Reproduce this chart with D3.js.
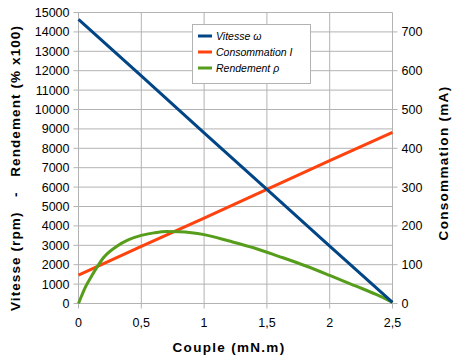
<!DOCTYPE html>
<html>
<head>
<meta charset="utf-8">
<script src="https://cdn.jsdelivr.net/npm/d3@7"></script>
<style>
  body { margin: 0; background: #fff; }
  text { font-family: "Liberation Sans", Arial, sans-serif; }
</style>
</head>
<body>
<script>
// chart size
const width = 462;
const height = 364;

// couple (mN.m) values
const vitesseX = [0, 0.5, 1, 1.5, 2, 2.5];
const vitesse = [14650, 11730, 8800, 5880, 2960, 60];

const consoX = [0, 0.5, 1, 1.5, 2, 2.5];
const conso = [73, 147, 220, 294, 368, 441];

const rendX = [0, 0.025, 0.05, 0.1, 0.15, 0.2, 0.3, 0.4, 0.5, 0.6, 0.7, 0.8, 0.9, 1, 1.2, 1.4, 1.6, 1.8, 2, 2.2, 2.4, 2.5];
const rend = [0, 400, 780, 1370, 1900, 2370, 2930, 3290, 3510, 3640, 3710, 3700, 3650, 3550, 3220, 2860, 2420, 1960, 1450, 920, 380, 60];

const xTicks = [0, 0.5, 1, 1.5, 2, 2.5];
const leftTicks = d3.range(0, 15001, 1000);
const rightTicks = d3.range(0, 701, 100);

const seriesNames = ['Vitesse \u03C9', 'Consommation I', 'Rendement \u03C1'];
const colors = ['#004586', '#ff420e', '#579d1c'];

const svg = d3.select('body')
  .append('svg')
  .attr('width', width)
  .attr('height', height);

// scales
const x = d3.scaleLinear().domain([0, 2.5]).range([78.5, 392.5]);
const yL = d3.scaleLinear().domain([0, 15000]).range([303.5, 12.5]);
const yR = d3.scaleLinear().domain([0, 750]).range([303.5, 12.5]);

const fmt = d => String(d).replace('.', ',');

// grid
svg.append('g')
  .selectAll('line')
  .data(leftTicks)
  .enter()
  .append('line')
  .attr('x1', x(0) - 5)
  .attr('x2', x(2.5))
  .attr('y1', d => yL(d))
  .attr('y2', d => yL(d))
  .attr('stroke', '#b3b3b3');

svg.append('g')
  .selectAll('line')
  .data(xTicks)
  .enter()
  .append('line')
  .attr('x1', d => x(d))
  .attr('x2', d => x(d))
  .attr('y1', yL(15000))
  .attr('y2', yL(0) + 5)
  .attr('stroke', '#b3b3b3');

// right axis ticks
svg.append('g')
  .selectAll('line')
  .data(rightTicks)
  .enter()
  .append('line')
  .attr('x1', x(2.5))
  .attr('x2', x(2.5) + 5)
  .attr('y1', d => yR(d))
  .attr('y2', d => yR(d))
  .attr('stroke', '#b3b3b3');

// tick labels
svg.append('g')
  .selectAll('text')
  .data(leftTicks)
  .enter()
  .append('text')
  .attr('x', x(0) - 9)
  .attr('y', d => yL(d))
  .attr('dy', '0.36em')
  .attr('text-anchor', 'end')
  .attr('font-size', 12.5)
  .attr('fill', '#000')
  .text(d => d);

svg.append('g')
  .selectAll('text')
  .data(rightTicks)
  .enter()
  .append('text')
  .attr('x', x(2.5) + 9)
  .attr('y', d => yR(d))
  .attr('dy', '0.36em')
  .attr('font-size', 12.5)
  .attr('fill', '#000')
  .text(d => d);

svg.append('g')
  .selectAll('text')
  .data(xTicks)
  .enter()
  .append('text')
  .attr('x', d => x(d))
  .attr('y', 322)
  .attr('dy', '0.36em')
  .attr('text-anchor', 'middle')
  .attr('font-size', 12.5)
  .attr('fill', '#000')
  .text(fmt);

// series lines
const line = (xs, ys, yScale) => d3.line()
  .x((d, i) => x(xs[i]))
  .y(d => yScale(d))(ys);

const curve = d3.line()
  .x((d, i) => x(rendX[i]))
  .y(d => yL(d))
  .curve(d3.curveMonotoneX);

svg.append('path')
  .attr('d', line(consoX, conso, yR))
  .attr('fill', 'none')
  .attr('stroke', colors[1])
  .attr('stroke-width', 3);

svg.append('path')
  .attr('d', curve(rend))
  .attr('fill', 'none')
  .attr('stroke', colors[2])
  .attr('stroke-width', 3);

svg.append('path')
  .attr('d', line(vitesseX, vitesse, yL))
  .attr('fill', 'none')
  .attr('stroke', colors[0])
  .attr('stroke-width', 3);

// axis titles
svg.append('text')
  .attr('x', 229)
  .attr('y', 352)
  .attr('text-anchor', 'middle')
  .attr('font-size', 13.5)
  .attr('font-weight', 'bold')
  .attr('letter-spacing', 1.3)
  .text('Couple (mN.m)');

svg.append('text')
  .attr('transform', 'translate(20,168) rotate(-90)')
  .attr('text-anchor', 'middle')
  .attr('font-size', 13.5)
  .attr('font-weight', 'bold')
  .attr('letter-spacing', 1.1)
  .style('white-space', 'pre')
  .text('Vitesse (rpm)   -   Rendement (% x100)');

svg.append('text')
  .attr('transform', 'translate(448,163) rotate(-90)')
  .attr('text-anchor', 'middle')
  .attr('font-size', 13.5)
  .attr('font-weight', 'bold')
  .attr('letter-spacing', 1.3)
  .text('Consommation (mA)');

// legend
const legend = svg.append('g');
legend.append('rect')
  .attr('x', 192.5)
  .attr('y', 24.5)
  .attr('width', 118)
  .attr('height', 59)
  .attr('fill', '#fff')
  .attr('stroke', '#b3b3b3');

const items = legend.selectAll('g')
  .data(seriesNames)
  .enter()
  .append('g')
  .attr('transform', (d, i) => `translate(0, ${36 + i * 16})`);

items.append('line')
  .attr('x1', 198)
  .attr('x2', 212)
  .attr('stroke', (d, i) => colors[i])
  .attr('stroke-width', 3);

items.append('text')
  .attr('x', 216)
  .attr('dy', '0.36em')
  .attr('font-family', 'DejaVu Sans')
  .attr('font-style', 'italic')
  .attr('font-size', 10.5)
  .text(d => d);
</script>
</body>
</html>
